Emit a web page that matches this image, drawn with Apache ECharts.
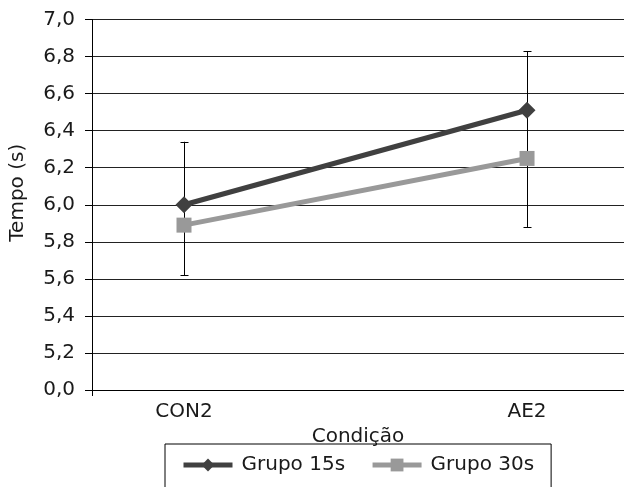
<!DOCTYPE html>
<html>
<head>
<meta charset="utf-8">
<script src="https://cdn.jsdelivr.net/npm/echarts@6/dist/echarts.min.js"></script>
<style>html,body{margin:0;padding:0;background:#fff}#c{width:624px;height:487px}</style>
</head>
<body>
<div id="c"></div>
<script>
const categories = ['CON2', 'AE2'];
const grupo15 = [6.0, 6.51];
const grupo30 = [5.89, 6.25];
const errLow = [5.62, 5.88];
const errHigh = [6.34, 6.83];
const yTickLabels = {'5.0': '0,0'};

const FONT = 'DejaVu Sans';
const chart = echarts.init(document.getElementById('c'), null, {renderer: 'canvas'});
const xMin = -0.2682, xMax = 1.2827;

chart.setOption({
  animation: false,
  backgroundColor: '#fff',
  textStyle: {fontFamily: FONT},
  grid: {left: 92, right: 0, top: 19.5, bottom: 97, containLabel: false},
  xAxis: {
    type: 'value', min: xMin, max: xMax,
    name: 'Condição', nameLocation: 'middle', nameGap: 31,
    nameTextStyle: {fontFamily: FONT, fontSize: 20, color: '#1a1a1a'},
    axisLine: {show: true, onZero: false, lineStyle: {color: '#000', width: 1}},
    axisTick: {show: true, customValues: [xMin], length: 6, lineStyle: {color: '#000'}},
    axisLabel: {customValues: [0, 1], margin: 12, fontFamily: FONT, fontSize: 20, color: '#1a1a1a',
      formatter: v => categories[Math.round(v)] || ''},
    splitLine: {show: false}
  },
  yAxis: {
    type: 'value', min: 5.0, max: 7.0, interval: 0.2,
    name: 'Tempo (s)', nameLocation: 'middle', nameGap: 64,
    nameTextStyle: {fontFamily: FONT, fontSize: 20, color: '#1a1a1a', padding: [0, 0, 0, 24]},
    axisLine: {show: true, onZero: false, lineStyle: {color: '#000', width: 1}},
    axisTick: {show: true, length: 7, lineStyle: {color: '#000'}},
    axisLabel: {margin: 17, fontFamily: FONT, fontSize: 20, color: '#1a1a1a',
      formatter: v => {
        const key = (Math.round(v * 10) / 10).toFixed(1);
        if (yTickLabels[key] !== undefined) return yTickLabels[key];
        return key.replace('.', ',');
      }},
    splitLine: {show: true, lineStyle: {color: '#222', width: 1}}
  },
  legend: {
    data: ['Grupo 15s', 'Grupo 30s'],
    left: 165, top: 444,
    padding: [11, 17, 40, 16],
    itemGap: 25, itemWidth: 49, itemHeight: 16,
    borderColor: '#000', borderWidth: 1, borderRadius: 0,
    lineStyle: {width: 5},
    textStyle: {fontFamily: FONT, fontSize: 20, color: '#1a1a1a', padding: [0, 0, 0, 4]}
  },
  series: [
    {
      type: 'custom', name: 'err', z: 1, silent: true,
      data: categories.map((c, i) => [i, errLow[i], errHigh[i]]),
      renderItem: (params, api) => {
        const lo = api.coord([api.value(0), api.value(1)]);
        const hi = api.coord([api.value(0), api.value(2)]);
        const x = Math.round(lo[0]) + 0.5, cw = 4;
        const st = {stroke: '#000', lineWidth: 1};
        return {type: 'group', children: [
          {type: 'line', shape: {x1: x, y1: lo[1], x2: x, y2: hi[1]}, style: st},
          {type: 'line', shape: {x1: x - cw, y1: Math.round(lo[1]) + 0.5, x2: x + cw, y2: Math.round(lo[1]) + 0.5}, style: st},
          {type: 'line', shape: {x1: x - cw, y1: Math.round(hi[1]) + 0.5, x2: x + cw, y2: Math.round(hi[1]) + 0.5}, style: st}
        ]};
      }
    },
    {
      type: 'line', name: 'Grupo 15s', z: 3,
      data: grupo15.map((v, i) => [i, v]),
      symbol: 'diamond', symbolSize: 17,
      lineStyle: {color: '#404040', width: 5},
      itemStyle: {color: '#404040'}
    },
    {
      type: 'line', name: 'Grupo 30s', z: 2,
      data: grupo30.map((v, i) => [i, v]),
      symbol: 'rect', symbolSize: 15,
      lineStyle: {color: '#999999', width: 5},
      itemStyle: {color: '#999999'}
    }
  ]
});
</script>
</body>
</html>
